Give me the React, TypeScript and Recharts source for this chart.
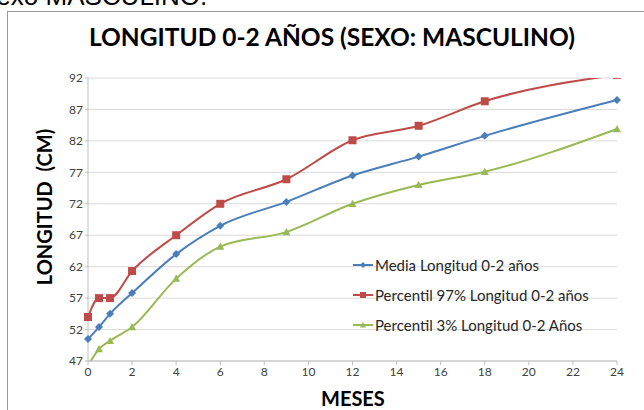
import { LineChart, Line, XAxis, YAxis, CartesianGrid } from "recharts";

const meses = [0, 0.5, 1, 2, 4, 6, 9, 12, 15, 18, 24];
const media = [50.5, 52.4, 54.5, 57.8, 64.0, 68.5, 72.3, 76.5, 79.5, 82.8, 88.5];
const p97 = [54.0, 57.0, 57.0, 61.3, 67.0, 72.0, 75.9, 82.1, 84.4, 88.3, 92.5];
const p3 = [46.3, 48.9, 50.2, 52.4, 60.1, 65.2, 67.5, 72.0, 75.0, 77.1, 83.9];

const xTicks = [0, 2, 4, 6, 8, 10, 12, 14, 16, 18, 20, 22, 24];
const yTicks = [47, 52, 57, 62, 67, 72, 77, 82, 87, 92];

const data = meses.map((m, i) => ({ mes: m, media: media[i], p97: p97[i], p3: p3[i] }));

const BLUE = "#4A7EBB";
const RED = "#BE4B48";
const GREEN = "#98B954";
const FONT = "Lato, 'Open Sans', sans-serif";

function Marker({ kind, cx, cy, color, s }: { kind: string; cx: number; cy: number; color: string; s: number }) {
  if (cx == null || cy == null) return null;
  if (kind === "diamond") {
    return <polygon points={`${cx},${cy - s} ${cx + s},${cy} ${cx},${cy + s} ${cx - s},${cy}`} fill={color} />;
  }
  if (kind === "square") {
    return <rect x={cx - s} y={cy - s} width={s * 2} height={s * 2} fill={color} />;
  }
  return <polygon points={`${cx},${cy - s} ${cx + s},${cy + s * 0.8} ${cx - s},${cy + s * 0.8}`} fill={color} />;
}

const series = [
  { key: "media", name: "Media Longitud 0-2 años", color: BLUE, kind: "diamond" },
  { key: "p97", name: "Percentil 97% Longitud 0-2 años", color: RED, kind: "square" },
  { key: "p3", name: "Percentil 3% Longitud 0-2 Años", color: GREEN, kind: "triangle" },
];

// legend drawn outside the chart so it doesn't shrink the plot area
function LegendBox() {
  return (
    <div style={{ position: "absolute", left: 353, top: 250, fontFamily: FONT, fontSize: 15, color: "#262626" }}>
      {series.map((s) => (
        <div key={s.key} style={{ display: "flex", alignItems: "center", height: 30 }}>
          <svg width={20} height={10} style={{ marginRight: 2 }}>
            <line x1={0} y1={5} x2={20} y2={5} stroke={s.color} strokeWidth={2} />
            <Marker kind={s.kind} cx={10} cy={5} color={s.color} s={3} />
          </svg>
          <span>{s.name}</span>
        </div>
      ))}
    </div>
  );
}

export default function App() {
  return (
    <div style={{ position: "fixed", left: 0, top: 0, width: 644, height: 410, overflow: "hidden", background: "#fff" }}>
      <div style={{ position: "absolute", left: -21, top: -19, fontFamily: "'Liberation Sans', Arial, sans-serif", fontSize: 26, color: "#000", whiteSpace: "nowrap" }}>
        Sexo MASCULINO.
      </div>
      <div style={{ position: "absolute", left: 7, top: 11, width: 700, height: 500, border: "1px solid #9a9a9a" }} />
      <div style={{ position: "absolute", left: 0, top: 22, width: 664, textAlign: "center", fontFamily: FONT, fontWeight: 700, fontSize: 24.5, color: "#000" }}>
        LONGITUD 0-2 AÑOS (SEXO: MASCULINO)
      </div>
      <div style={{ position: "absolute", left: 44, top: 207, transform: "translate(-50%, -50%) rotate(-90deg)", fontFamily: FONT, fontWeight: 700, fontSize: 20, whiteSpace: "pre", color: "#000" }}>
        {"LONGITUD  (CM)"}
      </div>
      <div style={{ position: "absolute", left: 321, top: 386, fontFamily: FONT, fontWeight: 700, fontSize: 20, color: "#000" }}>
        MESES
      </div>
      <div style={{ position: "absolute", left: 0, top: 0 }}>
        <LineChart width={644} height={410} data={data} margin={{ top: 78, right: 27, bottom: 24, left: 58 }}>
          <CartesianGrid vertical={false} stroke="#d9d9d9" />
          <XAxis
            dataKey="mes"
            type="number"
            domain={[0, 24]}
            ticks={xTicks}
            height={25}
            stroke="#bfbfbf"
            tickSize={4}
            tick={{ fill: "#404040", fontSize: 12, fontFamily: FONT }}
          />
          <YAxis
            domain={[47, 92]}
            ticks={yTicks}
            allowDataOverflow
            width={30}
            stroke="#bfbfbf"
            tickSize={3}
            tick={{ fill: "#404040", fontSize: 12, fontFamily: FONT }}
          />
          {series.map((s) => (
            <Line
              key={s.key}
              dataKey={s.key}
              name={s.name}
              type="monotone"
              stroke={s.color}
              strokeWidth={2}
              isAnimationActive={false}
              dot={(p: any) => <Marker key={`${s.key}-${p.index}`} kind={s.kind} cx={p.cx} cy={p.cy} color={s.color} s={4} />}
              activeDot={false}
            />
          ))}
        </LineChart>
      </div>
      <LegendBox />
    </div>
  );
}
